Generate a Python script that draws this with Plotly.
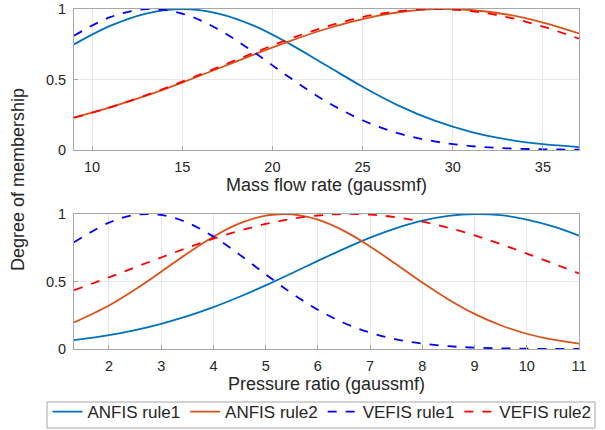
"""
Gaussian membership functions - ANFIS vs VEFIS rules (Plotly)
"""

import plotly.graph_objects as go

# top panel: mass flow rate
mass_x = [9, 11, 13, 15, 17, 19, 21, 23, 25, 27, 29, 31, 33, 35, 37]
mass_anfis1 = [0.749, 0.880, 0.968, 1.000, 0.968, 0.880, 0.749, 0.599, 0.449, 0.315,
               0.208, 0.129, 0.075, 0.041, 0.021]
mass_anfis2 = [0.230, 0.302, 0.385, 0.478, 0.578, 0.678, 0.774, 0.860, 0.929, 0.977,
               0.999, 0.993, 0.961, 0.904, 0.827]
mass_vefis1 = [0.810, 0.942, 0.999, 0.968, 0.856, 0.691, 0.510, 0.343, 0.211, 0.118,
               0.061, 0.028, 0.012, 0.005, 0.002]
mass_vefis2 = [0.229, 0.302, 0.389, 0.485, 0.588, 0.691, 0.790, 0.875, 0.943, 0.985,
               1.000, 0.985, 0.943, 0.875, 0.790]

# bottom panel: pressure ratio
pr_x = [1.33, 2, 2.5, 3, 3.5, 4, 4.5, 5, 5.5, 6, 6.5, 7, 7.5, 8, 8.5, 9, 9.5, 10, 10.5, 11]
pr_anfis1 = [0.065, 0.102, 0.140, 0.187, 0.243, 0.310, 0.387, 0.471, 0.561, 0.653,
             0.742, 0.825, 0.896, 0.951, 0.986, 1.000, 0.991, 0.959, 0.908, 0.840]
pr_anfis2 = [0.196, 0.322, 0.440, 0.572, 0.708, 0.832, 0.930, 0.988, 0.998, 0.958,
             0.875, 0.760, 0.627, 0.492, 0.367, 0.260, 0.176, 0.113, 0.069, 0.040]
pr_vefis1 = [0.790, 0.936, 0.993, 0.993, 0.936, 0.833, 0.699, 0.553, 0.413, 0.291,
             0.193, 0.121, 0.071, 0.040, 0.021, 0.010, 0.005, 0.002, 0.001, 0.000]
pr_vefis2 = [0.435, 0.531, 0.605, 0.678, 0.750, 0.817, 0.876, 0.926, 0.964, 0.989,
             1.000, 0.995, 0.976, 0.943, 0.898, 0.842, 0.777, 0.707, 0.634, 0.560]

series = [
    ("ANFIS rule1", "#0072BD", "solid", mass_anfis1, pr_anfis1),
    ("ANFIS rule2", "#D95319", "solid", mass_anfis2, pr_anfis2),
    ("VEFIS rule1", "#0000FF", "dash", mass_vefis1, pr_vefis1),
    ("VEFIS rule2", "#FF0000", "dash", mass_vefis2, pr_vefis2),
]

FONT = "Liberation Sans, Arial, sans-serif"
W, H = 605, 430

fig = go.Figure()

for name, color, dash, top_y, bot_y in series:
    fig.add_trace(go.Scatter(
        x=mass_x, y=top_y, mode="lines", name=name,
        line=dict(color=color, width=1.8, dash=dash, shape="spline"),
        xaxis="x", yaxis="y", legendgroup=name,
    ))
    fig.add_trace(go.Scatter(
        x=pr_x, y=bot_y, mode="lines", name=name, showlegend=False,
        line=dict(color=color, width=1.8, dash=dash, shape="spline"),
        xaxis="x2", yaxis="y2", legendgroup=name,
    ))

axis_style = dict(
    showline=True, mirror=True, linecolor="#a6a6a6", linewidth=1,
    showgrid=True, gridcolor="#e8e8e8", zeroline=False,
    ticks="inside", ticklen=4, tickcolor="#a6a6a6", automargin=False,
    ticklabeloverflow="allow",
    tickfont=dict(size=14.5, color="#262626", family=FONT),
)
xtitle_font = dict(size=18, color="#262626", family=FONT)

fig.update_layout(
    width=W, height=H,
    margin=dict(l=0, r=0, t=0, b=0),
    plot_bgcolor="white", paper_bgcolor="white",
    font=dict(family=FONT, color="#262626"),
    xaxis=dict(domain=[74 / W, 579 / W], range=[9, 37], anchor="y",
               tickvals=[10, 15, 20, 25, 30, 35], ticklabelstandoff=4,
               title=dict(text="Mass flow rate (gaussmf)", font=xtitle_font, standoff=3),
               **axis_style),
    yaxis=dict(domain=[1 - 150 / H, 1 - 9 / H], range=[0, 1], anchor="x",
               tickvals=[0, 0.5, 1], ticktext=["0", "0.5", "1"], ticklabelstandoff=4,
               **axis_style),
    xaxis2=dict(domain=[74 / W, 579 / W], range=[1.33, 11], anchor="y2",
                tickvals=[2, 3, 4, 5, 6, 7, 8, 9, 10, 11], ticklabelstandoff=4,
                title=dict(text="Pressure ratio (gaussmf)", font=xtitle_font, standoff=3),
                **axis_style),
    yaxis2=dict(domain=[1 - 349 / H, 1 - 214 / H], range=[0, 1], anchor="x2",
                tickvals=[0, 0.5, 1], ticktext=["0", "0.5", "1"], ticklabelstandoff=4,
                **axis_style),
    # legend kept inside the page; its frame is drawn as a shape to stay slim
    legend=dict(
        orientation="h", x=322 / W, xanchor="center", y=0, yanchor="bottom",
        borderwidth=0, bgcolor="rgba(0,0,0,0)",
        font=dict(size=17, color="#262626", family=FONT),
        itemwidth=30, tracegroupgap=0,
    ),
    shapes=[dict(
        type="rect", xref="paper", yref="paper",
        x0=47 / W, x1=595 / W, y0=1 - 428 / H, y1=1 - 402 / H,
        line=dict(color="#a6a6a6", width=1), fillcolor="rgba(0,0,0,0)", layer="below",
    )],
    annotations=[dict(
        text="Degree of membership", textangle=-90,
        x=18 / W, y=1 - 180 / H, xref="paper", yref="paper",
        xanchor="center", yanchor="middle",
        showarrow=False, font=dict(size=18, color="#262626", family=FONT),
    )],
)

# drop the browser's default 8px body margin so the figure sits at the page corner
fig.write_html(
    "out.html",
    config={"displayModeBar": False},
    post_script="document.body.style.margin = '0'; document.body.style.overflow = 'hidden';",
)
